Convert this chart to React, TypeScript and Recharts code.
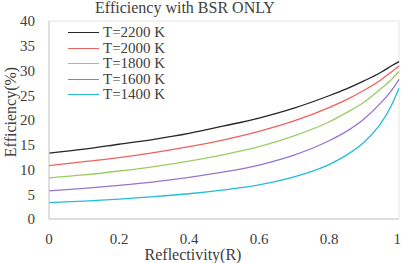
import React from 'react';
import { LineChart, Line, XAxis, YAxis, ReferenceLine } from 'recharts';

const reflectivity = [0, 0.1, 0.2, 0.3, 0.4, 0.5, 0.6, 0.7, 0.8, 0.85, 0.9, 0.95, 0.98, 1];

const t2200 = [13.3, 14.1, 15.1, 16.1, 17.3, 18.8, 20.4, 22.4, 24.9, 26.3, 27.9, 29.7, 31.0, 31.8];
const t2000 = [10.8, 11.6, 12.4, 13.4, 14.6, 16.0, 17.7, 19.8, 22.5, 24.1, 26.0, 28.2, 29.8, 30.9];
const t1800 = [8.3, 8.9, 9.7, 10.6, 11.7, 13.0, 14.6, 16.8, 19.6, 21.5, 23.6, 26.4, 28.3, 29.8];
const t1600 = [5.7, 6.2, 6.8, 7.5, 8.4, 9.5, 10.9, 12.9, 15.8, 17.7, 20.2, 23.6, 26.1, 28.2];
const t1400 = [3.3, 3.6, 4.0, 4.5, 5.1, 5.9, 6.9, 8.5, 11.0, 12.9, 15.5, 19.5, 23.2, 26.4];

const xTicks = [0, 0.2, 0.4, 0.6, 0.8, 1];
const yTicks = [0, 5, 10, 15, 20, 25, 30, 35, 40];

const series = [
  { key: 't2200', name: 'T=2200 K', color: '#262626' },
  { key: 't2000', name: 'T=2000 K', color: '#f0605d' },
  { key: 't1800', name: 'T=1800 K', color: '#9ccc65' },
  { key: 't1600', name: 'T=1600 K', color: '#9575cd' },
  { key: 't1400', name: 'T=1400 K', color: '#26bcd7' },
];

const data = reflectivity.map((r, i) => ({
  r,
  t2200: t2200[i],
  t2000: t2000[i],
  t1800: t1800[i],
  t1600: t1600[i],
  t1400: t1400[i],
}));

const font = '"Liberation Serif", "Times New Roman", serif';
const textColor = '#404040';

// legend drawn as an overlay so it doesn't eat into the plot area
const LegendBox = () => (
  <div style={{ position: 'absolute', left: 68, top: 25, fontSize: 15, color: textColor }}>
    {series.map((s) => (
      <div key={s.key} style={{ display: 'flex', alignItems: 'center', height: 15.5 }}>
        <div style={{ width: 31, height: 0, borderTop: `1.2px solid ${s.color}`, marginRight: 4 }} />
        <span style={{ lineHeight: '15px', whiteSpace: 'nowrap' }}>{s.name}</span>
      </div>
    ))}
  </div>
);

const tickStyle = { fill: textColor, fontSize: 15 };

const App = () => {
  return (
    <div
      className="bsr-chart"
      style={{ position: 'absolute', left: 0, top: 0, width: 401, height: 263, background: '#fff', fontFamily: font }}
    >
      <style>{`.bsr-chart, .bsr-chart text, .bsr-chart tspan { font-family: ${font} !important; }`}</style>
      <LineChart width={401} height={263} data={data} margin={{ top: 21, right: 2, bottom: 0, left: 0 }}>
        <ReferenceLine y={40} stroke="#e8e4dc" />
        <ReferenceLine x={1} stroke="#e8e4dc" />
        <XAxis
          dataKey="r"
          type="number"
          domain={[0, 1]}
          ticks={xTicks}
          tickFormatter={(v) => String(v)}
          height={44}
          tickLine={false}
          tickSize={0}
          tickMargin={14}
          axisLine={{ stroke: '#bfbfbf' }}
          tick={tickStyle}
        />
        <YAxis
          type="number"
          domain={[0, 40]}
          ticks={yTicks}
          width={49}
          tickLine={false}
          tickSize={0}
          tickMargin={14}
          axisLine={{ stroke: '#bfbfbf' }}
          tick={tickStyle}
        />
        {series.map((s) => (
          <Line
            key={s.key}
            type="monotone"
            dataKey={s.key}
            name={s.name}
            stroke={s.color}
            strokeWidth={1.3}
            dot={false}
            isAnimationActive={false}
          />
        ))}
        <text x={185} y={13} textAnchor="middle" fill={textColor} fontSize={16}>
          Efficiency with BSR ONLY
        </text>
        <text x={193} y={260} textAnchor="middle" fill={textColor} fontSize={16}>
          Reflectivity(R)
        </text>
        <text x={15.5} y={112} textAnchor="middle" transform="rotate(-90, 15.5, 112)" fill={textColor} fontSize={16}>
          Efficiency(%)
        </text>
      </LineChart>
      <LegendBox />
    </div>
  );
};

export default App;
